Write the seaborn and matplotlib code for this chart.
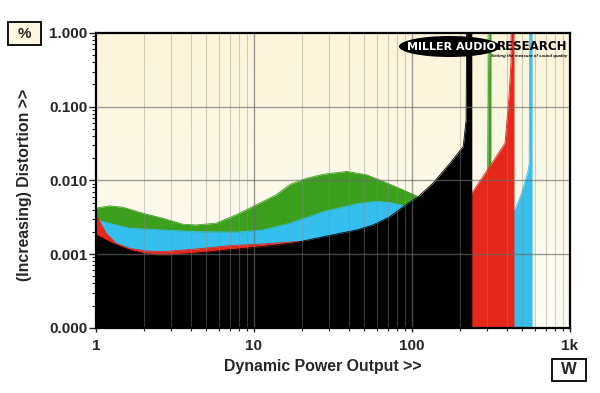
import numpy as np
import pandas as pd
import matplotlib
matplotlib.use("Agg")
import matplotlib.pyplot as plt
from matplotlib.patches import Ellipse, Rectangle
from matplotlib.colors import LinearSegmentedColormap
from matplotlib.ticker import NullFormatter, LogLocator
import seaborn as sns

# values (power in W, distortion in %)
green_power = [1, 1.214, 1.476, 1.974, 2.64, 3.54, 4.29, 5.74, 7.7, 10.3, 13.8, 16.9, 21.6,
               27.5, 38.6, 51.5, 69.4, 88, 109.5, 150, 239, 300, 308, 316]
green_dist = [0.0042, 0.0045, 0.00432, 0.00358, 0.00306, 0.00254, 0.00248, 0.00262, 0.0034,
              0.00464, 0.00636, 0.0088, 0.0107, 0.0121, 0.0132, 0.0119, 0.0092, 0.0074,
              0.0060, 0.0052, 0.005, 0.006, 2.0, 2.0]

blue_power = [1, 1.02, 1.214, 1.62, 2.64, 4.29, 7.7, 11.3, 16.9, 27.5, 44.6, 59.8, 72.6,
              90.4, 100, 200, 442, 448, 494, 545, 552, 556, 575]
blue_dist = [0.0030, 0.0029, 0.00262, 0.00224, 0.00212, 0.00201, 0.00198, 0.00212, 0.00262,
             0.00377, 0.0048, 0.0052, 0.0050, 0.0045, 0.0044, 0.0042, 0.0040, 0.0040,
             0.0067, 0.0139, 0.017, 2.0, 2.0]

red_power = [1, 1.157, 1.339, 1.62, 2.07, 2.64, 4.29, 6.98, 11.3, 18.4, 25, 40, 60, 100,
             200, 239, 312, 388, 411, 423, 424, 442]
red_dist = [0.0034, 0.00192, 0.0014, 0.0012, 0.0011, 0.00108, 0.00117, 0.0013, 0.00137,
            0.00147, 0.0015, 0.0017, 0.002, 0.003, 0.005, 0.0067, 0.0157, 0.032, 0.138,
            0.39, 2.0, 2.0]

black_power = [1, 1.27, 1.62, 2.07, 2.64, 3.37, 4.29, 6.98, 11.3, 18.4, 27.5, 44.6, 56.8,
               72.6, 88, 109.5, 136, 174, 211, 220, 222, 239]
black_dist = [0.00182, 0.0014, 0.00114, 0.001, 0.00097, 0.00099, 0.00103, 0.00114, 0.00126,
              0.00143, 0.00172, 0.00212, 0.00248, 0.00322, 0.0044, 0.006, 0.0092, 0.0171,
              0.0288, 0.066, 2.0, 2.0]

x_ticks = [1, 10, 100, 1000]
x_labels = ['1', '10', '100', '1k']
y_ticks = [1e-4, 1e-3, 1e-2, 1e-1, 1]
y_labels = ['0.000', '0.001', '0.010', '0.100', '1.000']

sns.set_style("ticks")
plt.rcParams['font.family'] = ['Liberation Sans', 'DejaVu Sans']
plt.rcParams['font.weight'] = 'bold'

fig = plt.figure(figsize=(6, 3.93), dpi=100)
ax = fig.add_axes([96 / 600, 1 - 327.7 / 393, 474 / 600, 294.7 / 393])
ax.set_xscale('log')
ax.set_yscale('log')

# cream gradient behind the plot
grad = np.linspace(0, 1, 256).reshape(-1, 1)
bg = LinearSegmentedColormap.from_list('bg', ['#fefdf6', '#fcf5da'])
ax.imshow(grad, extent=[0, 1, 0, 1], transform=ax.transAxes, cmap=bg,
          aspect='auto', origin='lower', zorder=0)

series = [(green_power, green_dist, '#3ca01e'),
          (blue_power, blue_dist, '#35bfee'),
          (red_power, red_dist, '#e5281a'),
          (black_power, black_dist, '#000000')]

for i, (p, d, c) in enumerate(series):
    df = pd.DataFrame({'power': p, 'dist': d})
    ax.fill_between(df['power'], 1e-5, df['dist'], color=c, lw=0, zorder=2 + i)
    sns.lineplot(data=df, x='power', y='dist', color=c, lw=0.6, estimator=None,
                 sort=False, ax=ax, zorder=2 + i)

ax.set_xlim(1, 1000)
ax.set_ylim(1e-4, 1)

# grid on top of the fills
for dec in [1, 10, 100]:
    for k in range(2, 10):
        ax.axvline(dec * k, color='#8a8a8a', lw=0.8, alpha=0.4, zorder=10)
for xv in [10, 100]:
    ax.axvline(xv, color='#6a6a6a', lw=1.0, alpha=0.65, zorder=10)
for yv in [1e-3, 1e-2, 1e-1]:
    ax.axhline(yv, color='#6a6a6a', lw=1.0, alpha=0.65, zorder=10)

ax.set_xticks(x_ticks)
ax.set_xticklabels(x_labels)
ax.set_yticks(y_ticks)
ax.set_yticklabels(y_labels)
ax.xaxis.set_minor_locator(LogLocator(subs=range(2, 10)))
ax.yaxis.set_minor_locator(LogLocator(subs=range(2, 10)))
ax.xaxis.set_minor_formatter(NullFormatter())
ax.yaxis.set_minor_formatter(NullFormatter())
ax.tick_params(axis='y', which='major', direction='out', length=5, width=1, pad=1,
               labelsize=11, left=True)
ax.tick_params(axis='y', which='minor', direction='out', length=3, width=0.8, left=True)
ax.tick_params(axis='x', which='major', direction='out', length=3, width=1, pad=5,
               labelsize=11, bottom=True)
ax.tick_params(axis='x', which='minor', direction='out', length=2.5, width=0.8, bottom=True)
for lab in ax.get_xticklabels() + ax.get_yticklabels():
    lab.set_fontweight('bold')
ax.set_xlabel('')
ax.set_ylabel('')
for s in ax.spines.values():
    s.set_linewidth(1.6)
    s.set_color('black')
    s.set_zorder(12)

fig.text(323 / 600, 1 - 366 / 393, 'Dynamic Power Output >>', ha='center', va='center',
         fontsize=11.4, fontweight='bold')
fig.text(24.5 / 600, 1 - 185 / 393, '(Increasing) Distortion >>', ha='center', va='center',
         rotation=90, fontsize=11.4, fontweight='bold')

# unit boxes
fig.add_artist(Rectangle((8 / 600, 1 - 45 / 393), 33 / 600, 23 / 393, transform=fig.transFigure,
                         facecolor='#fdf8df', edgecolor='black', lw=1.3))
fig.text(24.5 / 600, 1 - 33.5 / 393, '%', ha='center', va='center', fontsize=11,
         fontweight='bold')
fig.add_artist(Rectangle((552 / 600, 1 - 381 / 393), 34 / 600, 22 / 393, transform=fig.transFigure,
                         facecolor='white', edgecolor='black', lw=1.3))
fig.text(569 / 600, 1 - 370 / 393, 'W', ha='center', va='center', fontsize=12,
         fontweight='bold')

# logo
fig.add_artist(Ellipse((449.5 / 600, 1 - 46.5 / 393), 101 / 600, 21 / 393,
                       transform=fig.transFigure, facecolor='black', edgecolor='none'))
fig.text(451 / 600, 1 - 46.5 / 393, 'MILLER AUDIO', ha='center', va='center', color='white',
         fontsize=8, fontweight='bold', family='DejaVu Sans')
fig.text(497 / 600, 1 - 46 / 393, 'RESEARCH', ha='left', va='center', color='black',
         fontsize=8.5, fontweight='bold', family='DejaVu Sans')
fig.text(491 / 600, 1 - 56 / 393, 'Setting the measure of sound quality', ha='left',
         va='center', color='black', fontsize=3.2, fontweight='bold', style='italic')

fig.savefig('out.png', dpi=100)
